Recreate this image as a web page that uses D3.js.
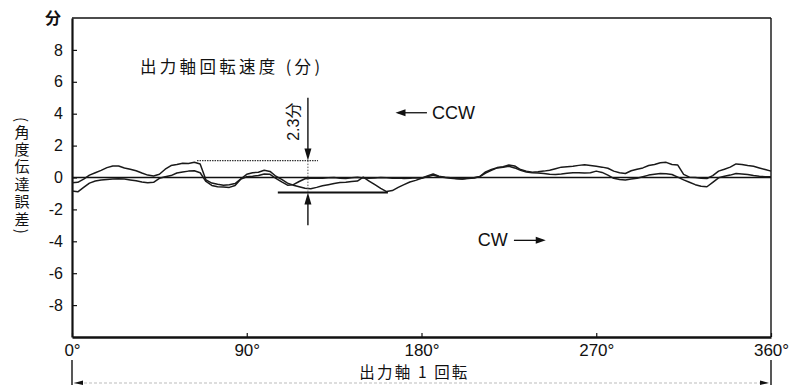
<!DOCTYPE html>
<html><head><meta charset="utf-8">
<script src="https://cdn.jsdelivr.net/npm/d3@7"></script>
<style>
html,body{margin:0;padding:0;background:#fff;}
svg{display:block;font-family:"Liberation Sans",Arial,"Noto Sans CJK JP",sans-serif;}
</style></head>
<body>
<svg id="chart" width="803" height="385"></svg>
<script>
// ---- data ----
const angles = [0,3,6,9,12,15,18,21,24,27,30,33,36,39,42,45,48,51,54,57,60,63,66,69,72,75,78,81,84,87,
 90,93,96,99,102,105,108,111,114,117,120,123,126,129,132,135,138,141,144,147,150,153,156,159,162,165,168,171,174,177,
 180,183,186,189,192,195,198,201,204,207,210,213,216,219,222,225,228,231,234,237,240,243,246,249,252,255,258,261,264,267,
 270,273,276,279,282,285,288,291,294,297,300,303,306,309,312,315,318,321,324,327,330,333,336,339,342,345,348,351,354,357,360];
const seriesA = [-0.33,-0.3,-0.1,0.15,0.3,0.45,0.62,0.72,0.72,0.6,0.52,0.42,0.28,0.15,0.1,0.2,0.52,0.75,0.82,0.9,
 0.88,0.95,0.85,-0.15,-0.35,-0.42,-0.48,-0.45,-0.38,-0.08,
 0.2,0.3,0.33,0.45,0.38,0.08,-0.12,-0.35,-0.48,-0.58,-0.68,-0.7,-0.62,-0.52,-0.45,-0.38,-0.32,-0.3,-0.25,-0.22,
 0.02,-0.22,-0.45,-0.68,-0.88,-0.82,-0.62,-0.45,-0.28,-0.18,
 -0.05,0.1,0.22,0.08,0.02,-0.02,-0.06,-0.1,-0.03,-0.02,0.06,0.35,0.5,0.62,0.68,0.78,0.72,0.5,0.4,0.33,
 0.36,0.4,0.45,0.55,0.65,0.68,0.7,0.76,0.8,0.75,
 0.7,0.65,0.58,0.4,0.3,0.25,0.42,0.52,0.6,0.75,0.82,0.92,0.95,0.82,0.78,0.2,0.02,0,-0.05,-0.06,
 0.12,0.4,0.52,0.65,0.85,0.82,0.75,0.7,0.6,0.5,0.4];
const seriesB = [-0.85,-0.9,-0.62,-0.35,-0.22,-0.16,-0.12,-0.1,-0.08,-0.1,-0.15,-0.2,-0.28,-0.33,-0.3,-0.05,0.05,0.12,0.28,0.35,
 0.4,0.42,0.3,-0.25,-0.5,-0.58,-0.6,-0.62,-0.5,-0.1,
 0.05,0.08,0.12,0.22,0.2,-0.05,-0.28,-0.48,-0.45,-0.25,-0.08,-0.04,-0.03,-0.05,-0.02,0.0,-0.04,-0.06,-0.02,0.02,
 -0.03,-0.05,-0.03,0.0,-0.02,-0.05,-0.03,-0.06,-0.04,-0.02,
 -0.05,0.05,0.15,0.05,0.0,-0.05,-0.08,-0.1,-0.06,-0.03,0.05,0.28,0.45,0.6,0.65,0.7,0.6,0.45,0.35,0.3,
 0.28,0.25,0.2,0.19,0.22,0.26,0.3,0.3,0.28,0.3,
 0.4,0.32,0.15,-0.05,-0.12,-0.15,-0.1,-0.05,0.05,0.15,0.2,0.25,0.23,0.19,0.02,-0.15,-0.3,-0.45,-0.55,-0.58,
 -0.3,-0.02,0.08,0.15,0.25,0.22,0.19,0.12,0.08,0.05,0.04];
const yTicks = [-8,-6,-4,-2,0,2,4,6,8];
const xTicks = [0,90,180,270,360];
const xTickLabels = ["0°","90°","180°","270°","360°"];
const yUnit = "分";
const yTitle = "(角度伝達誤差)";
const chartTitle = "出力軸回転速度 (分)";
const xTitle = "出力軸 1 回転";
const peakLabel = "2.3分";
const peakMax = 1.06, peakMin = -0.94;

// ---- layout ----
const svg = d3.select("#chart");
const x = d3.scaleLinear().domain([0,360]).range([72,771]);
const y = d3.scaleLinear().domain([-10,10]).range([337,18]);
const ink = "#111";

// frame top/right
svg.append("line").attr("x1",x(0)).attr("x2",x(360)).attr("y1",y(10)).attr("y2",y(10)).attr("stroke",ink).attr("stroke-width",1.6);
svg.append("line").attr("x1",x(360)).attr("x2",x(360)).attr("y1",y(10)).attr("y2",y(-10)).attr("stroke",ink).attr("stroke-width",1.4);

// axes
const gy = svg.append("g").attr("transform",`translate(${x(0)},0)`)
  .call(d3.axisLeft(y).tickValues(yTicks).tickSize(-5).tickSizeOuter(0).tickPadding(9).tickFormat(d=>d));
gy.select(".domain").attr("stroke",ink).attr("stroke-width",2.2);
gy.selectAll(".tick line").attr("stroke",ink).attr("stroke-width",1.2);
gy.selectAll(".tick text").attr("font-size",16).attr("fill",ink).attr("font-family","Liberation Sans, Arial, sans-serif");

const gx = svg.append("g").attr("transform",`translate(0,${y(-10)})`)
  .call(d3.axisBottom(x).tickValues(xTicks).tickSize(-4).tickSizeOuter(0).tickPadding(7).tickFormat((d,i)=>xTickLabels[i]));
gx.select(".domain").attr("stroke",ink).attr("stroke-width",2.4);
gx.selectAll(".tick line").attr("stroke",ink).attr("stroke-width",1.2);
gx.selectAll(".tick text").attr("font-size",17).attr("fill",ink).attr("font-family","Liberation Sans, Arial, sans-serif");

// unit label at top
svg.append("text").attr("x",53).attr("y",y(10)+6).attr("text-anchor","middle").attr("font-size",16)
  .attr("font-weight","bold").attr("fill",ink).attr("font-family","Noto Sans CJK JP").text(yUnit);

// y title (vertical writing)
svg.append("text").attr("x",22).attr("y",117)
  .style("writing-mode","vertical-rl").attr("font-size",15).attr("letter-spacing",2.4)
  .attr("fill",ink).attr("font-family","Noto Sans CJK JP").text(yTitle);

// zero line
svg.append("line").attr("x1",x(0)).attr("x2",x(360)).attr("y1",y(0)).attr("y2",y(0)).attr("stroke",ink).attr("stroke-width",1.6);

// series
const line = d3.line().x((d,i)=>x(angles[i])).y(d=>y(d));
[seriesB, seriesA].forEach(s=>{
  svg.append("path").datum(s).attr("d",line).attr("fill","none").attr("stroke","#1a1a1a").attr("stroke-width",1.5).attr("stroke-linejoin","round");
});

// chart title
svg.append("text").attr("x",x(35)).attr("y",y(7.0)).attr("dominant-baseline","central").attr("font-size",16.5)
  .attr("fill",ink).attr("font-family","Noto Sans CJK JP").attr("textLength",180).attr("lengthAdjust","spacing").text(chartTitle);

// peak-to-peak annotation
const ax = x(121.5);
svg.append("line").attr("x1",x(64.4)).attr("x2",x(126.7)).attr("y1",y(peakMax)).attr("y2",y(peakMax))
  .attr("stroke","#333").attr("stroke-width",1.2).attr("stroke-dasharray","1.5,1");
svg.append("line").attr("x1",x(106)).attr("x2",x(162.7)).attr("y1",y(peakMin)).attr("y2",y(peakMin))
  .attr("stroke",ink).attr("stroke-width",2);
svg.append("line").attr("x1",ax).attr("x2",ax).attr("y1",y(5)).attr("y2",y(peakMax)-8).attr("stroke",ink).attr("stroke-width",1.4);
svg.append("path").attr("d",`M${ax-3.5},${y(peakMax)-12}L${ax+3.5},${y(peakMax)-12}L${ax},${y(peakMax)}Z`).attr("fill",ink);
svg.append("line").attr("x1",ax).attr("x2",ax).attr("y1",y(peakMax)).attr("y2",y(peakMin)).attr("stroke","#555").attr("stroke-width",1).attr("stroke-dasharray","1.5,1.5");
svg.append("line").attr("x1",ax).attr("x2",ax).attr("y1",y(peakMin)+8).attr("y2",y(-3)).attr("stroke",ink).attr("stroke-width",1.4);
svg.append("path").attr("d",`M${ax-3.5},${y(peakMin)+12}L${ax+3.5},${y(peakMin)+12}L${ax},${y(peakMin)}Z`).attr("fill",ink);
svg.append("text").attr("transform",`translate(${ax-14},${y(3.5)}) rotate(-90)`).attr("text-anchor","middle")
  .attr("dominant-baseline","central").attr("font-size",16).attr("fill",ink).text(peakLabel);

// CCW
const ccwY = y(4.06);
svg.append("line").attr("x1",x(168)).attr("x2",x(182.8)).attr("y1",ccwY).attr("y2",ccwY).attr("stroke",ink).attr("stroke-width",1.3);
svg.append("path").attr("d",`M${x(166.6)},${ccwY}L${x(166.6)+10},${ccwY-3.5}L${x(166.6)+10},${ccwY+3.5}Z`).attr("fill",ink);
svg.append("text").attr("x",x(185.4)).attr("y",ccwY).attr("dominant-baseline","central").attr("font-size",18).attr("fill",ink).text("CCW");

// CW
const cwY = y(-3.94);
svg.append("text").attr("x",x(209)).attr("y",cwY).attr("dominant-baseline","central").attr("font-size",18).attr("fill",ink).text("CW");
svg.append("line").attr("x1",x(227.6)).attr("x2",x(242.5)).attr("y1",cwY).attr("y2",cwY).attr("stroke",ink).attr("stroke-width",1.3);
svg.append("path").attr("d",`M${x(244)},${cwY}L${x(244)-10},${cwY-3.5}L${x(244)-10},${cwY+3.5}Z`).attr("fill",ink);

// x title and dimension line
svg.append("text").attr("x",x(148)).attr("y",371).attr("dominant-baseline","central").attr("font-size",15.5)
  .attr("fill",ink).attr("font-family","Noto Sans CJK JP").attr("textLength",108).attr("lengthAdjust","spacing").text(xTitle);
[0,360].forEach(a=>{
  svg.append("line").attr("x1",x(a)).attr("x2",x(a)).attr("y1",360).attr("y2",385).attr("stroke",ink).attr("stroke-width",1.4);
});
svg.append("line").attr("x1",x(0)+2).attr("x2",x(360)-2).attr("y1",383).attr("y2",383).attr("stroke","#bbb").attr("stroke-width",1).attr("stroke-dasharray","3,2");
svg.append("path").attr("d",`M${x(0)+2},383L${x(0)+11},380.5L${x(0)+11},385Z`).attr("fill",ink);
svg.append("path").attr("d",`M${x(360)-2},383L${x(360)-11},380.5L${x(360)-11},385Z`).attr("fill",ink);
</script>
</body></html>
